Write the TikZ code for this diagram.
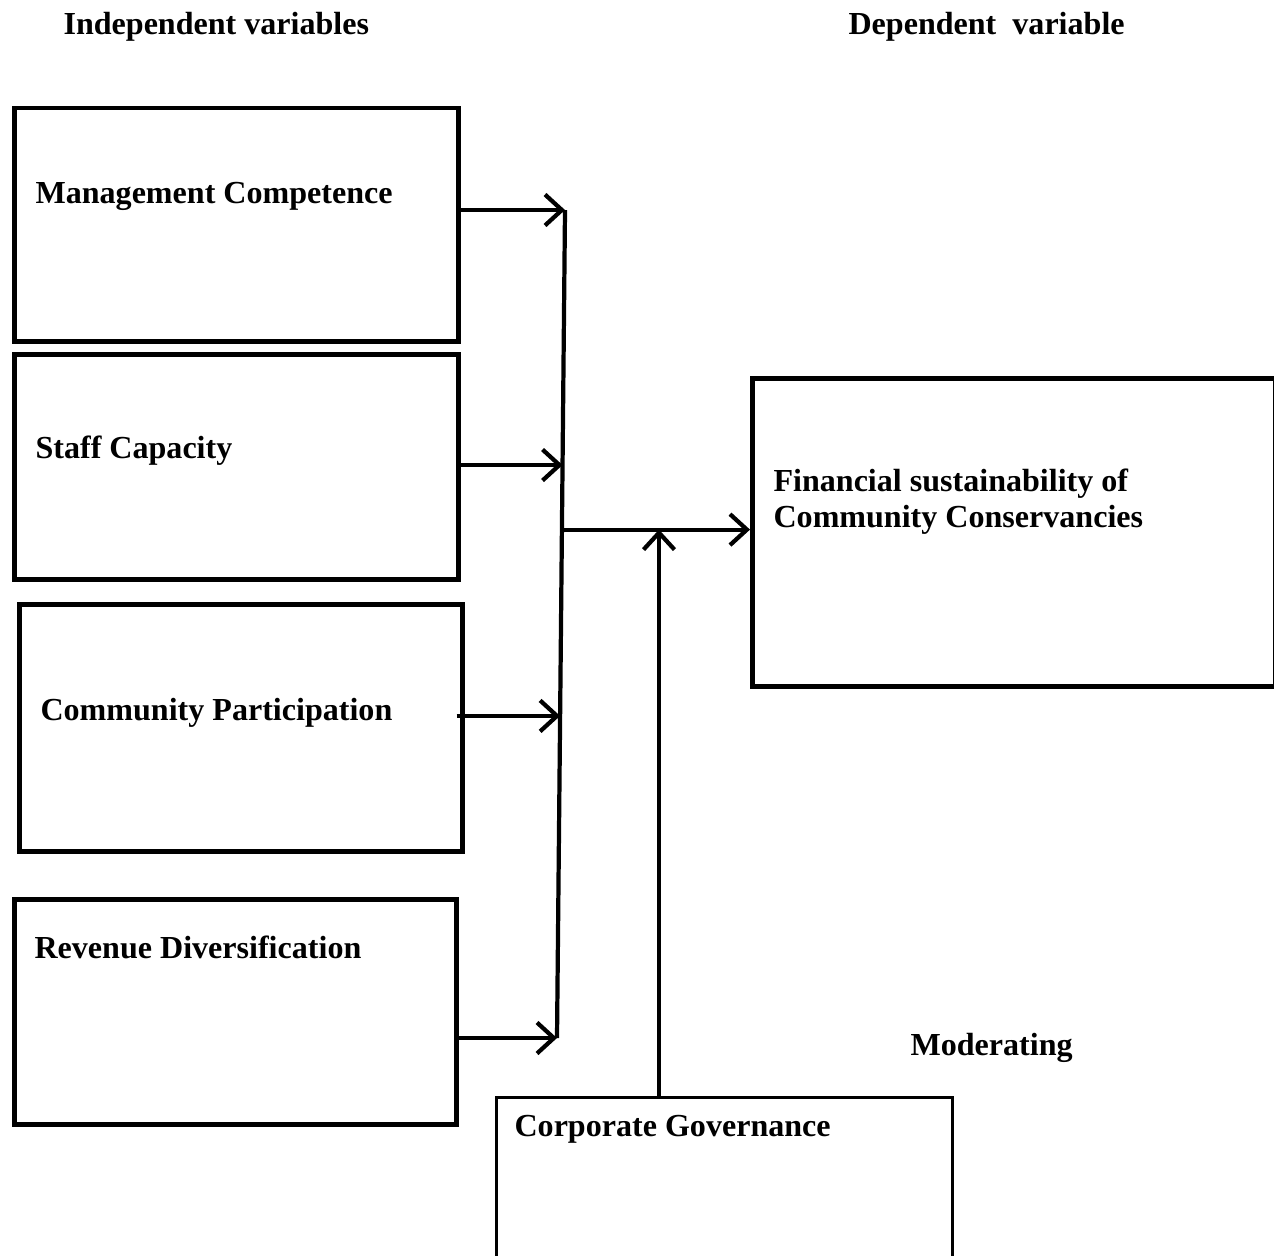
\documentclass[tikz,border=0pt]{standalone}
\usepackage{fontspec}
\setmainfont{Liberation Serif}
\usetikzlibrary{arrows.meta,calc,positioning}

\tikzset{
  box/.style={draw,line width=1.6pt,rectangle,inner sep=0pt,anchor=north west},
  lbl/.style={font=\bfseries\fontsize{11.4}{12.8}\selectfont,anchor=base west,inner sep=0pt,align=left},
  link/.style={line width=1.5pt,-{Straight Barb[length=6pt,width=11pt,line width=1.5pt]}}
}

\begin{document}
\begin{tikzpicture}[x=0.0125cm,y=-0.0125cm]
  \useasboundingbox (0,0) rectangle (1274,1255);
  % headings
  \node[lbl] (indep) at (63,35) {Independent variables};
  \node[lbl] (dep) at (848,35) {Dependent\ \ variable};
  \node[lbl] (moder) at (910,1055) {Moderating};
  % boxes
  \node[box,minimum width=5.55cm,minimum height=2.9125cm] (mc) at (12,106) {};
  \node[box,minimum width=5.55cm,minimum height=2.8125cm] (sc) at (12,352) {};
  \node[box,minimum width=5.5375cm,minimum height=3.0875cm] (cp) at (17,602) {};
  \node[box,minimum width=5.525cm,minimum height=2.8125cm] (rd) at (12,897) {};
  \node[box,minimum width=6.5375cm,minimum height=3.85cm] (fs) at (750,376) {};
  \node[box,line width=0.9pt,minimum width=5.7cm,minimum height=2.4cm] (cg) at (495,1096) {};
  % box texts
  \node[lbl] (mctext) at (35,203) {Management Competence};
  \node[lbl] (sctext) at (35,458) {Staff Capacity};
  \node[lbl] (cptext) at (40,720) {Community Participation};
  \node[lbl] (rdtext) at (34,958) {Revenue Diversification};
  \node[lbl] (fstext) at (773,527) {Financial sustainability of\\Community Conservancies};
  \node[lbl] (cgtext) at (514,1136) {Corporate Governance};
  % collecting line
  \coordinate (bustop) at (565,210);
  \coordinate (busbot) at (557,1038);
  \coordinate (jsc) at ($(bustop)!0.308!(busbot)$);
  \coordinate (jout) at ($(bustop)!0.386!(busbot)$);
  \coordinate (jcp) at ($(bustop)!0.611!(busbot)$);
  \coordinate (cgtop) at (659,1096);
  \draw[line width=1.5pt] (bustop) -- (busbot);
  \draw[link] (mc.east |- bustop) -- (bustop);
  \draw[link] (sc.east |- jsc) -- (jsc);
  \draw[link] ([xshift=-0.1cm]cp.east |- jcp) -- (jcp);
  \draw[link] ([xshift=-0.05cm]rd.east |- busbot) -- (busbot);
  \draw[link] (jout) -- (fs.west |- jout);
  \draw[link] (cgtop) -- (cgtop |- jout);
\end{tikzpicture}
\end{document}
